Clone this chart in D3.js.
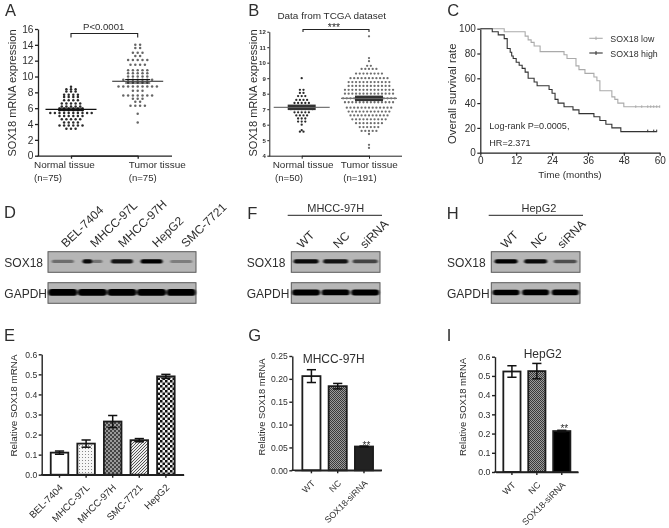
<!DOCTYPE html>
<html><head><meta charset="utf-8">
<script src="https://cdn.jsdelivr.net/npm/d3@7"></script>
<style>html,body{margin:0;padding:0;background:#fff}svg{display:block;filter:blur(0.4px)}text{font-family:"Liberation Sans",Arial,sans-serif;fill:#2e2e2e}</style>
</head><body><svg id="c" width="669" height="528"></svg>
<script>
// ---------- DATA ----------
const aNormal=[8.7,8.4,8.4,8.4,8.1,8.1,8.1,7.7,7.7,7.7,7.7,7.4,7.4,7.4,7.4,7.0,7.0,7.0,7.0,6.6,6.6,6.6,6.6,6.6,6.2,6.2,6.2,6.2,6.2,5.95,5.95,5.95,5.95,5.95,5.95,5.75,5.75,5.75,5.75,5.75,5.75,5.4,5.4,5.4,5.4,5.4,5.4,5.4,5.4,5.4,5.4,5.0,5.0,5.0,5.0,5.0,5.0,4.6,4.6,4.6,4.6,4.6,4.2,4.2,4.2,4.2,3.8,3.8,3.8,3.8,3.8,3.8,3.4,3.4,3.4];
const aTumor=[14,14,13.6,13.6,13,13,13,12.6,12.6,12.1,12.1,12.1,12.1,12.1,11.5,11.5,11.5,11.5,10.8,10.8,10.8,10.8,10.8,10.4,10.4,10.4,10.4,10.4,10,10,10,10,10,9.6,9.6,9.6,9.6,9.6,9.6,9.6,9.2,9.2,9.2,9.2,9.2,8.75,8.75,8.75,8.75,8.75,8.75,8.75,8.75,8.75,8.2,8.2,8.2,7.6,7.6,7.6,7.6,7.6,7.6,7.6,7.2,7.2,7.2,6.8,6.8,6.3,6.3,6.3,6.3,5.3,4.2];
const aMeans=[5.85,9.4], aSem=[0.15,0.22];
const aCategories=["Normal tissue","Tumor tissue"], aCounts=["(n=75)","(n=75)"];
const aTicks=[0,2,4,6,8,10,12,14,16];

const bNormal=[9,8.25,8.25,8.05,8.05,7.85,7.85,7.85,7.6,7.6,7.6,7.6,7.4,7.4,7.4,7.4,7.4,7.2,7.2,7.2,7.2,7.2,7.2,7.2,7,7,7,7,7,7,7,6.8,6.8,6.8,6.8,6.8,6.6,6.6,6.6,6.6,6.4,6.4,6.4,6.2,6.2,6.2,6,5.65,5.55,5.55];
const bTumor=[11.7,10.3,10.1,9.8,9.8,9.6,9.6,9.6,9.6,9.6,9.3,9.3,9.3,9.3,9.3,9.3,9.3,9.3,9,9,9,9,9,9,9,9,9,9,9,8.75,8.75,8.75,8.75,8.75,8.75,8.75,8.75,8.75,8.75,8.75,8.75,8.5,8.5,8.5,8.5,8.5,8.5,8.5,8.5,8.5,8.5,8.5,8.5,8.25,8.25,8.25,8.25,8.25,8.25,8.25,8.25,8.25,8.25,8.25,8.25,8.25,8.25,8,8,8,8,8,8,8,8,8,8,8,8,8,8,7.7,7.7,7.7,7.7,7.7,7.7,7.7,7.7,7.7,7.7,7.7,7.7,7.7,7.7,7.7,7.45,7.45,7.45,7.45,7.45,7.45,7.45,7.45,7.45,7.45,7.45,7.45,7.45,7.45,7.1,7.1,7.1,7.1,7.1,7.1,7.1,7.1,7.1,7.1,7.1,7.1,7.1,6.85,6.85,6.85,6.85,6.85,6.85,6.85,6.85,6.85,6.85,6.85,6.85,6.6,6.6,6.6,6.6,6.6,6.6,6.6,6.6,6.6,6.6,6.6,6.35,6.35,6.35,6.35,6.35,6.35,6.35,6.35,6.35,6.35,6.1,6.1,6.1,6.1,6.1,6.1,6.1,6.1,5.85,5.85,5.85,5.85,5.85,5.85,5.6,5.6,5.6,5.6,5.6,5.4,4.7,4.5];
const bMeans=[7.12,7.7], bSem=[0.1,0.1];
const bCategories=["Normal tissue","Tumor tissue"], bCounts=["(n=50)","(n=191)"];
const bTicks=[4,5,6,7,8,9,10,11,12];

const survLow=[[0,100],[8,100],[8,97.5],[15,97.5],[15,94],[16,94],[16,91],[17,91],[17,89],[18,89],[18,86],[20,86],[20,81.5],[28,81.5],[28,79],[29,79],[29,76],[32,76],[32,70],[33,70],[33,67],[35,67],[35,64],[38,64],[38,61],[39,61],[39,58],[40,58],[40,50],[44,50],[44,45],[45,45],[45,43],[46,43],[46,40],[48,40],[48,37],[60,37]];
const survHigh=[[0,100],[4,100],[4,97.5],[6,97.5],[6,95],[8,95],[8,92],[9,92],[9,84],[10,84],[10,81],[10.5,81],[10.5,78],[11,78],[11,76],[12,76],[12,73],[13,73],[13,70.5],[14,70.5],[14,68],[15,68],[15,65],[16,65],[16,60],[18,60],[18,57],[19,57],[19,54],[23,54],[23,51],[24,51],[24,48],[25,48],[25,43],[26,43],[26,40],[28,40],[28,37],[31,37],[31,34.5],[33,34.5],[33,31.5],[38,31.5],[38,29],[40,29],[40,26],[42,26],[42,23],[44,23],[44,20],[47,20],[47,17],[59,17]];
const censorLow=[52,54,56,57,58,59,60], censorHigh=[56,58,59];
const cYTicks=[0,20,40,60,80,100], cXTicks=[0,12,24,36,48,60];

const dLanes=["BEL-7404","MHCC-97L","MHCC-97H","HepG2","SMC-7721"];
const dSox=[0.38,[0.9,0.35],0.85,0.97,0.3], dGapdh=[1,0.95,0.95,0.95,1];
const fLanes=["WT","NC","siRNA"];
const fSox=[0.9,0.85,0.6], fGapdh=[1,0.95,1];
const hLanes=["WT","NC","siRNA"];
const hSox=[0.95,0.9,0.55], hGapdh=[0.95,1,1];

const eCats=["BEL-7404","MHCC-97L","MHCC-97H","SMC-7721","HepG2"];
const eVals=[0.11,0.155,0.265,0.172,0.49], eErr=[0.008,0.018,0.03,0.008,0.01];
const eTicks=[0,0.1,0.2,0.3,0.4,0.5,0.6];
const gCats=["WT","NC","SOX18-siRNA"];
const gVals=[0.206,0.184,0.052], gErr=[0.014,0.006,0.001];
const gTicks=[0,0.05,0.10,0.15,0.20,0.25];
const iCats=["WT","NC","SOX18-siRNA"];
const iVals=[0.523,0.525,0.213], iErr=[0.03,0.04,0.004];
const iTicks=[0,0.1,0.2,0.3,0.4,0.5,0.6];

// ---------- HELPERS ----------
const svg=d3.select("#c");
const defs=svg.append("defs");
const blur=defs.append("filter").attr("id","bl").attr("x","-20%").attr("y","-100%").attr("width","140%").attr("height","300%");
blur.append("feGaussianBlur").attr("stdDeviation","1.2 0.7");
function pat(id,s,bg,draw){const p=defs.append("pattern").attr("id",id).attr("width",s).attr("height",s).attr("patternUnits","userSpaceOnUse");p.append("rect").attr("width",s).attr("height",s).attr("fill",bg);draw(p);}
const sq=(p,x,y,w,c)=>p.append("rect").attr("x",x).attr("y",y).attr("width",w).attr("height",w).attr("fill",c);
pat("pDots",3,"#f6f6f6",p=>sq(p,1,1,1,"#888"));
pat("pDark",4,"#9a9a9a",p=>{sq(p,0,0,2,"#444");sq(p,2,2,2,"#444");});
pat("pDiag",3,"#eee",p=>p.append("path").attr("d","M-1,1L1,-1M0,3L3,0M2,4L4,2").attr("stroke","#555").attr("stroke-width",1));
pat("pCoarse",5,"#f2f2f2",p=>{sq(p,0,0,2.5,"#111");sq(p,2.5,2.5,2.5,"#111");});
pat("pFine",2,"#9c9c9c",p=>{sq(p,0,0,1,"#3a3a3a");sq(p,1,1,1,"#3a3a3a");});

function txt(x,y,s,size,o={}){
  const t=svg.append("text").attr("x",x).attr("y",y).attr("font-size",size).attr("text-anchor",o.anchor||"start").text(s);
  if(o.rot!=null)t.attr("transform",`rotate(${o.rot},${x},${y})`);
  return t;
}
const letter=(s,x,y)=>txt(x,y,s,16.5);
function styleAxis(g,w,c,fs){
  g.selectAll("path,line").attr("stroke",c).attr("stroke-width",w);
  g.selectAll("text").attr("font-size",fs).style("fill","#2e2e2e").attr("font-family",'"Liberation Sans",Arial,sans-serif');
}
function swarm(g,vals,cx,y,step,r,col){
  const rows=d3.group(vals,v=>v);
  rows.forEach((arr,v)=>{
    arr.forEach((d,i)=>g.append("circle").attr("cx",cx+(i-(arr.length-1)/2)*step).attr("cy",y(d)).attr("r",r).attr("fill",col));
  });
}
function line(g,x1,y1,x2,y2,c,w){return g.append("line").attr("x1",x1).attr("y1",y1).attr("x2",x2).attr("y2",y2).attr("stroke",c).attr("stroke-width",w);}

function scatter(o){
  const g=svg.append("g");
  const y=d3.scaleLinear().domain(o.dom).range(o.yr);
  const x=d3.scalePoint().domain(o.cats).range(o.xc);
  const ya=g.append("g").attr("transform",`translate(${o.x0},0)`).call(d3.axisLeft(y).tickValues(o.ticks).tickFormat(d3.format("d")).tickSize(o.tick).tickSizeOuter(0).tickPadding(1.5));
  styleAxis(ya,o.aw,"#222",o.tfs);
  if(o.tbold)ya.selectAll("text").attr("font-weight","bold");
  const xa=g.append("g").attr("transform",`translate(0,${o.yr[0]})`).call(d3.axisBottom(x).tickSize(3).tickSizeOuter(0).tickFormat(""));
  styleAxis(xa,o.aw,"#222",1);
  line(xa,o.x0-.5-0,0.5,o.x1,0.5,"#222",o.aw);
  o.series.forEach((v,i)=>{
    const cx=x(o.cats[i]);
    swarm(g,v,cx,y,o.step[i],o.r,o.cols[i]);
    line(g,cx-o.mw,y(o.means[i]),cx+o.mw,y(o.means[i]),o.mcol[i],o.mth);
    [-1,1].forEach(s=>line(g,cx-o.sw,y(o.means[i]+s*o.sem[i]),cx+o.sw,y(o.means[i]+s*o.sem[i]),o.scol,o.sth));
  });
}
function bars(o){
  const g=svg.append("g");
  const y=d3.scaleLinear().domain(o.dom).range(o.yr);
  const x=d3.scaleBand().domain(o.cats).range(o.xr).padding(o.pad);
  g.selectAll("rect").data(o.vals).join("rect").attr("x",(d,i)=>x(o.cats[i])).attr("width",x.bandwidth()).attr("y",d=>y(d)).attr("height",d=>y(0)-y(d)).attr("fill",(d,i)=>o.fills[i]).attr("stroke","#1c1c1c").attr("stroke-width",1.8);
  o.vals.forEach((v,i)=>{
    const cx=x(o.cats[i])+x.bandwidth()/2;
    const e=o.errs[i];
    line(g,cx,y(v+e),cx,y(v-e),"#111",1.5);
    [-1,1].forEach(s=>line(g,cx-o.cap,y(v+s*e),cx+o.cap,y(v+s*e),"#111",1.5));
  });
  const ya=g.append("g").attr("transform",`translate(${o.x0},0)`).call(d3.axisLeft(y).tickValues(o.ticks).tickFormat(d3.format(o.fmt)).tickSize(3).tickSizeOuter(0).tickPadding(1.5));
  styleAxis(ya,1.4,"#222",o.tfs);
  const xa=g.append("g").attr("transform",`translate(0,${o.yr[0]})`).call(d3.axisBottom(x).tickSize(3).tickSizeOuter(0).tickPadding(4));
  styleAxis(xa,1.4,"#222",o.xfs);
  line(xa,o.x0-.7,0,o.x1,0,"#222",1.4);
  xa.selectAll(".tick text").attr("text-anchor","end").attr("transform","rotate(-45)").attr("dx","-6.7").attr("dy","5.5");
}
function blot(cats,vals,x0,x1,y0,y1,ry,hw){
  const g=svg.append("g");
  const x=d3.scaleBand().domain(cats).range([x0,x1]);
  g.append("rect").attr("x",x0).attr("y",y0).attr("width",x1-x0).attr("height",y1-y0).attr("fill","#b6b6b6").attr("stroke","#5a5a5a").attr("stroke-width",1);
  const cy=(y0+y1)/2-0.6;
  const bg=g.append("g").attr("filter","url(#bl)");
  vals.forEach((v,i)=>{
    const cx=x(cats[i])+x.bandwidth()/2;
    const el=(c,w,a)=>{const h=ry*(0.55+0.45*a);bg.append("rect").attr("x",c-w).attr("y",cy-h).attr("width",2*w).attr("height",2*h).attr("rx",h).attr("ry",h).attr("fill","#000").attr("opacity",Math.min(1,a*1.05));};
    if(Array.isArray(v)){el(cx-hw*0.45,hw*0.45,v[0]);el(cx+hw*0.45,hw*0.45,v[1]);}
    else el(cx,hw,v);
  });
}

// ---------- PANELS ----------
letter("A",5,15.7);
txt(103.7,30,"P<0.0001",9.6,{anchor:"middle"});
svg.append("path").attr("d",d3.line()([[71,37.5],[71,33.5],[137.7,33.5],[137.7,37.5]])).attr("fill","none").attr("stroke","#222").attr("stroke-width",1.1);
scatter({dom:[0,16],yr:[155.7,29],x0:38,x1:172,xc:[71,137.7],cats:aCategories,ticks:aTicks,tick:3,aw:1.3,tfs:10.2,series:[aNormal,aTumor],step:[4.6,4.8],r:1.25,cols:["#2a2a2a","#666"],means:aMeans,sem:aSem,mw:25.5,sw:12.5,mcol:["#111","#222"],scol:"#111",mth:1.1,sth:1});
txt(15.5,93,"SOX18 mRNA expression",11.05,{anchor:"middle",rot:-90});
aCategories.forEach((c,i)=>{const X=[34,128.7][i];txt(X,168,c,9.95);txt(X,181,aCounts[i],9.6);});

letter("B",248.3,15.7);
txt(331.7,19,"Data from TCGA dataset",9.95,{anchor:"middle"});
txt(334,31,"***",10.5,{anchor:"middle"});
svg.append("path").attr("d",d3.line()([[303,32],[303,29.5],[369,29.5],[369,32]])).attr("fill","none").attr("stroke","#222").attr("stroke-width",1.1);
scatter({dom:[4,12],yr:[155.7,31.7],x0:269.3,x1:402,xc:[301.7,369],cats:bCategories,ticks:bTicks,tick:2,aw:1,tfs:6,tbold:true,series:[bNormal,bTumor],step:[3.6,3.7],r:1.15,cols:["#2a2a2a","#6e6e6e"],means:bMeans,sem:bSem,mw:28,sw:14,mcol:["#777","#777"],scol:"#333",mth:1.2,sth:2.4});
txt(257,93,"SOX18 mRNA expression",11.05,{anchor:"middle",rot:-90});
bCategories.forEach((c,i)=>{txt([272.7,340.7][i],168,c,9.95);txt([275,343.3][i],181,bCounts[i],9.6);});

// C
letter("C",447.3,15.7);
(function(){
  const g=svg.append("g");
  const x=d3.scaleLinear().domain([0,60]).range([480.3,659.7]);
  const y=d3.scaleLinear().domain([0,100]).range([152.7,28.7]);
  const lineGen=d3.line().x(d=>x(d[0])).y(d=>y(d[1]));
  const ya=g.append("g").attr("transform","translate(480.3,0)").call(d3.axisLeft(y).tickValues(cYTicks).tickSize(3).tickSizeOuter(0).tickPadding(1.5));
  styleAxis(ya,1.2,"#222",10);
  const xa=g.append("g").attr("transform","translate(0,152.7)").call(d3.axisBottom(x).tickValues(cXTicks).tickSize(3).tickSizeOuter(0).tickPadding(1.5));
  styleAxis(xa,1.2,"#222",10);
  g.append("path").attr("d",lineGen(survLow)).attr("fill","none").attr("stroke","#aaa").attr("stroke-width",1.1);
  g.append("path").attr("d",lineGen(survHigh)).attr("fill","none").attr("stroke","#333").attr("stroke-width",1.1);
  censorLow.forEach(t=>line(g,x(t),y(37)-1.5,x(t),y(37)+1,"#aaa",1));
  censorHigh.forEach(t=>line(g,x(t),y(17)-2,x(t),y(17)+0.5,"#333",1));
  line(g,589.3,38.3,602.7,38.3,"#aaa",1.1);line(g,596,36.5,596,40,"#aaa",1);
  line(g,589.3,53,602.7,53,"#333",1.1);line(g,596,51,596,55,"#333",1);
})();
txt(610.3,41.7,"SOX18 low",8.8);
txt(610.3,56.7,"SOX18 high",8.8);
txt(489.3,129,"Log-rank P=0.0005,",9.1);
txt(489.3,146,"HR=2.371",9.1);
txt(570,177.7,"Time (months)",9.9,{anchor:"middle"});
txt(455.7,93.7,"Overall survival rate",11.4,{anchor:"middle",rot:-90});

// D
letter("D",4,218);
[[66,248],[95,248],[123,248],[157,248],[186,248]].forEach((p,i)=>txt(p[0],p[1],dLanes[i],12,{rot:-44}));
txt(4.3,266.7,"SOX18",12);txt(4.3,297.7,"GAPDH",12);
blot(dLanes,dSox,48,196,251.7,272.3,2.2,11);
blot(dLanes,dGapdh,48,196,282.7,303.3,3.4,14.5);

// F
letter("F",247.3,219);
txt(335.7,211.7,"MHCC-97H",11,{anchor:"middle"});
line(svg,287.7,215.3,382,215.3,"#222",1);
[[302,249],[338,249],[365,249]].forEach((p,i)=>txt(p[0],p[1],fLanes[i],12,{rot:-45}));
txt(246.7,266.7,"SOX18",12);txt(246.7,297.7,"GAPDH",12);
blot(fLanes,fSox,291.3,380,251.7,272.3,2.2,12.5);
blot(fLanes,fGapdh,291.3,380,282.7,303.3,3,14);

// H
letter("H",446.7,219);
txt(539,211.7,"HepG2",11,{anchor:"middle"});
line(svg,488.7,215.3,583,215.3,"#222",1);
[[505.7,249],[535.7,249],[562.3,249]].forEach((p,i)=>txt(p[0],p[1],hLanes[i],12,{rot:-45}));
txt(447,266.7,"SOX18",12);txt(447,297.7,"GAPDH",12);
blot(hLanes,hSox,491.3,580,251.7,272.3,2.2,11.5);
blot(hLanes,hGapdh,491.3,580,282.7,303.3,2.8,13.5);

// E
letter("E",4,340.7);
bars({dom:[0,0.6],yr:[474.7,354.3],xr:[41.7,183.7],pad:0.34,x0:41.7,x1:184,cats:eCats,vals:eVals,errs:eErr,fills:["#fff","url(#pDots)","url(#pDark)","url(#pDiag)","url(#pCoarse)"],cap:4.6,ticks:eTicks,fmt:".1f",tfs:8.6,xfs:9.7});
txt(17.3,405.5,"Relative SOX18 mRNA",9.9,{anchor:"middle",rot:-90});

// G
letter("G",248.3,340.7);
bars({dom:[0,0.25],yr:[470.3,356],xr:[294.2,381.2],pad:0.31,x0:292.3,x1:382,cats:gCats,vals:gVals,errs:gErr,fills:["#fff","url(#pFine)","#222"],cap:4.6,ticks:gTicks,fmt:".2f",tfs:8.6,xfs:8.8});
txt(265,407,"Relative SOX18 mRNA",9.4,{anchor:"middle",rot:-90});
txt(333.7,362.7,"MHCC-97H",12,{anchor:"middle"});
txt(366.5,449,"**",10,{anchor:"middle"});

// I
letter("I",446.7,340.7);
bars({dom:[0,0.6],yr:[472,356.7],xr:[495.6,578.1],pad:0.31,x0:495,x1:578.3,cats:iCats,vals:iVals,errs:iErr,fills:["#fff","url(#pFine)","#000"],cap:4.6,ticks:iTicks,fmt:".1f",tfs:8.8,xfs:8.9});
txt(466,407,"Relative SOX18 mRNA",9.5,{anchor:"middle",rot:-90});
txt(542.7,358.3,"HepG2",12,{anchor:"middle"});
txt(564.3,432,"**",10,{anchor:"middle"});
</script></body></html>
